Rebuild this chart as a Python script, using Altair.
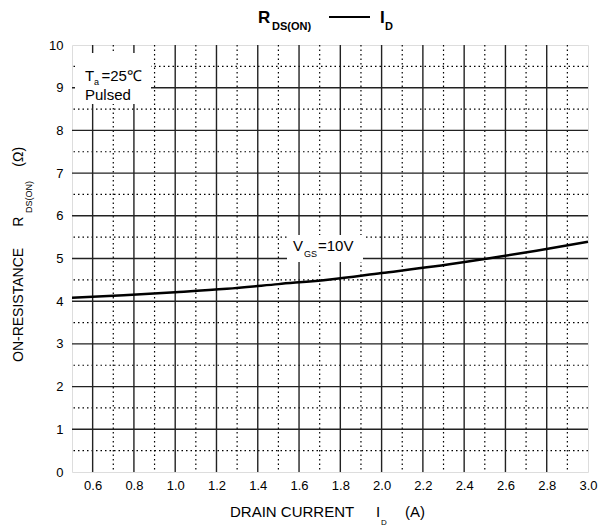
import altair as alt
import pandas as pd

# ---- data ----
drain_current = [0.5, 0.75, 1.0, 1.25, 1.5, 1.75, 2.0, 2.25, 2.5, 2.75, 3.0]
r_ds_on = [4.08, 4.14, 4.21, 4.29, 4.40, 4.51, 4.66, 4.81, 4.99, 5.18, 5.39]

x_major = [0.6, 0.8, 1.0, 1.2, 1.4, 1.6, 1.8, 2.0, 2.2, 2.4, 2.6, 2.8]
x_minor = [0.7, 0.9, 1.1, 1.3, 1.5, 1.7, 1.9, 2.1, 2.3, 2.5, 2.7, 2.9]
y_major = [1, 2, 3, 4, 5, 6, 7, 8, 9]
y_minor = [0.5, 1.5, 2.5, 3.5, 4.5, 5.5, 6.5, 7.5, 8.5, 9.5]
x_tick_labels = [0.6, 0.8, 1.0, 1.2, 1.4, 1.6, 1.8, 2.0, 2.2, 2.4, 2.6, 2.8, 3.0]
y_tick_labels = [0, 1, 2, 3, 4, 5, 6, 7, 8, 9, 10]

FONT = "Liberation Sans"
W, H = 516, 427

xs = alt.Scale(domain=[0.5, 3.0], nice=False, zero=False)
ys = alt.Scale(domain=[0, 10], nice=False, zero=False)

x_axis = alt.Axis(values=x_tick_labels, format=".1f", title=None, grid=False,
                  ticks=False, domain=False, labelFontSize=13, labelPadding=7,
                  labelOverlap=False, labelBound=False, labelFont=FONT,
                  labelColor="black", labelFlush=False)
y_axis = alt.Axis(values=y_tick_labels, format="d", title=None, grid=False,
                  ticks=False, domain=False, labelFontSize=13, labelPadding=9,
                  labelFont=FONT, labelColor="black", labelOverlap=False,
                  labelBound=False, labelFlush=False)

curve_df = pd.DataFrame({"id": drain_current, "r": r_ds_on})

curve = alt.Chart(curve_df).mark_line(
    color="black", strokeWidth=2.5, interpolate="monotone"
).encode(
    x=alt.X("id:Q", scale=xs, axis=x_axis),
    y=alt.Y("r:Q", scale=ys, axis=y_axis),
)

def vrules(name, vals, dash, width, color):
    mk = dict(color=color, strokeWidth=width)
    if dash:
        mk["strokeDash"] = dash
    return alt.Chart(pd.DataFrame({name: vals})).mark_rule(**mk).encode(
        x=alt.X(f"{name}:Q", scale=xs, axis=x_axis))

def hrules(name, vals, dash, width, color):
    mk = dict(color=color, strokeWidth=width)
    if dash:
        mk["strokeDash"] = dash
    return alt.Chart(pd.DataFrame({name: vals})).mark_rule(**mk).encode(
        y=alt.Y(f"{name}:Q", scale=ys, axis=y_axis))

grid = [
    vrules("xmin", x_minor, [1.5, 3], 1.2, "black"),
    hrules("ymin", y_minor, [1.5, 3], 1.2, "black"),
    vrules("xmaj", x_major, None, 1.4, "#222"),
    hrules("ymaj", y_major, None, 1.4, "#222"),
]

one = pd.DataFrame({"k": [0]})

def txt(s, x, y, size, bold=False, angle=None, align="left"):
    kw = dict(text=s, font=FONT, fontSize=size, color="black", align=align,
              baseline="alphabetic", fontWeight="bold" if bold else "normal")
    if angle is not None:
        kw["angle"] = angle
    return alt.Chart(one).mark_text(**kw).encode(x=alt.value(x), y=alt.value(y))

def box(x1, x2, y1, y2):
    return alt.Chart(one).mark_rect(color="white").encode(
        x=alt.value(x1), x2=alt.value(x2), y=alt.value(y1), y2=alt.value(y2))

boxes = [
    box(3, 79, 8, 59),
    box(215, 291, 190, 217),
]

labels = [
    txt("T", 13, 36, 15),
    txt("a", 22, 40, 9),
    txt("=25℃", 29.5, 36, 15),
    txt("Pulsed", 13, 55, 15),
    txt("V", 221, 205.5, 15),
    txt("GS", 232, 211.5, 9),
    txt("=10V", 246, 205.5, 15),
    # chart title
    txt("R", 186, -22.5, 17, bold=True),
    txt("DS(ON)", 200, -15, 11, bold=True),
    alt.Chart(one).mark_rule(color="black", strokeWidth=2.2).encode(
        x=alt.value(257), x2=alt.value(298), y=alt.value(-28)),
    txt("I", 308, -22.5, 17, bold=True),
    txt("D", 313, -15, 11, bold=True),
    # x title
    txt("DRAIN CURRENT", 158, 471.5, 15),
    txt("I", 304, 471.5, 15),
    txt("D", 309, 480, 8),
    txt("(A)", 333, 471.5, 15),
    # y title
    txt("ON-RESISTANCE", -48.7, 317, 14, angle=270),
    txt("R", -48.7, 181.7, 14, angle=270),
    txt("DS(ON)", -40.3, 168, 9, angle=270),
    txt("(Ω)", -48.7, 121.7, 14, angle=270),
]

chart = alt.layer(*grid, *boxes, curve, *labels).properties(
    width=W, height=H,
    autosize=alt.AutoSizeParams(type="none"),
    padding={"left": 72, "top": 45, "right": 10, "bottom": 54},
).configure_view(stroke="#222", strokeWidth=1.6).configure_axis(
    grid=False
).configure(background="white")

chart.save("out.html", embed_options={"renderer": "svg", "actions": False})
